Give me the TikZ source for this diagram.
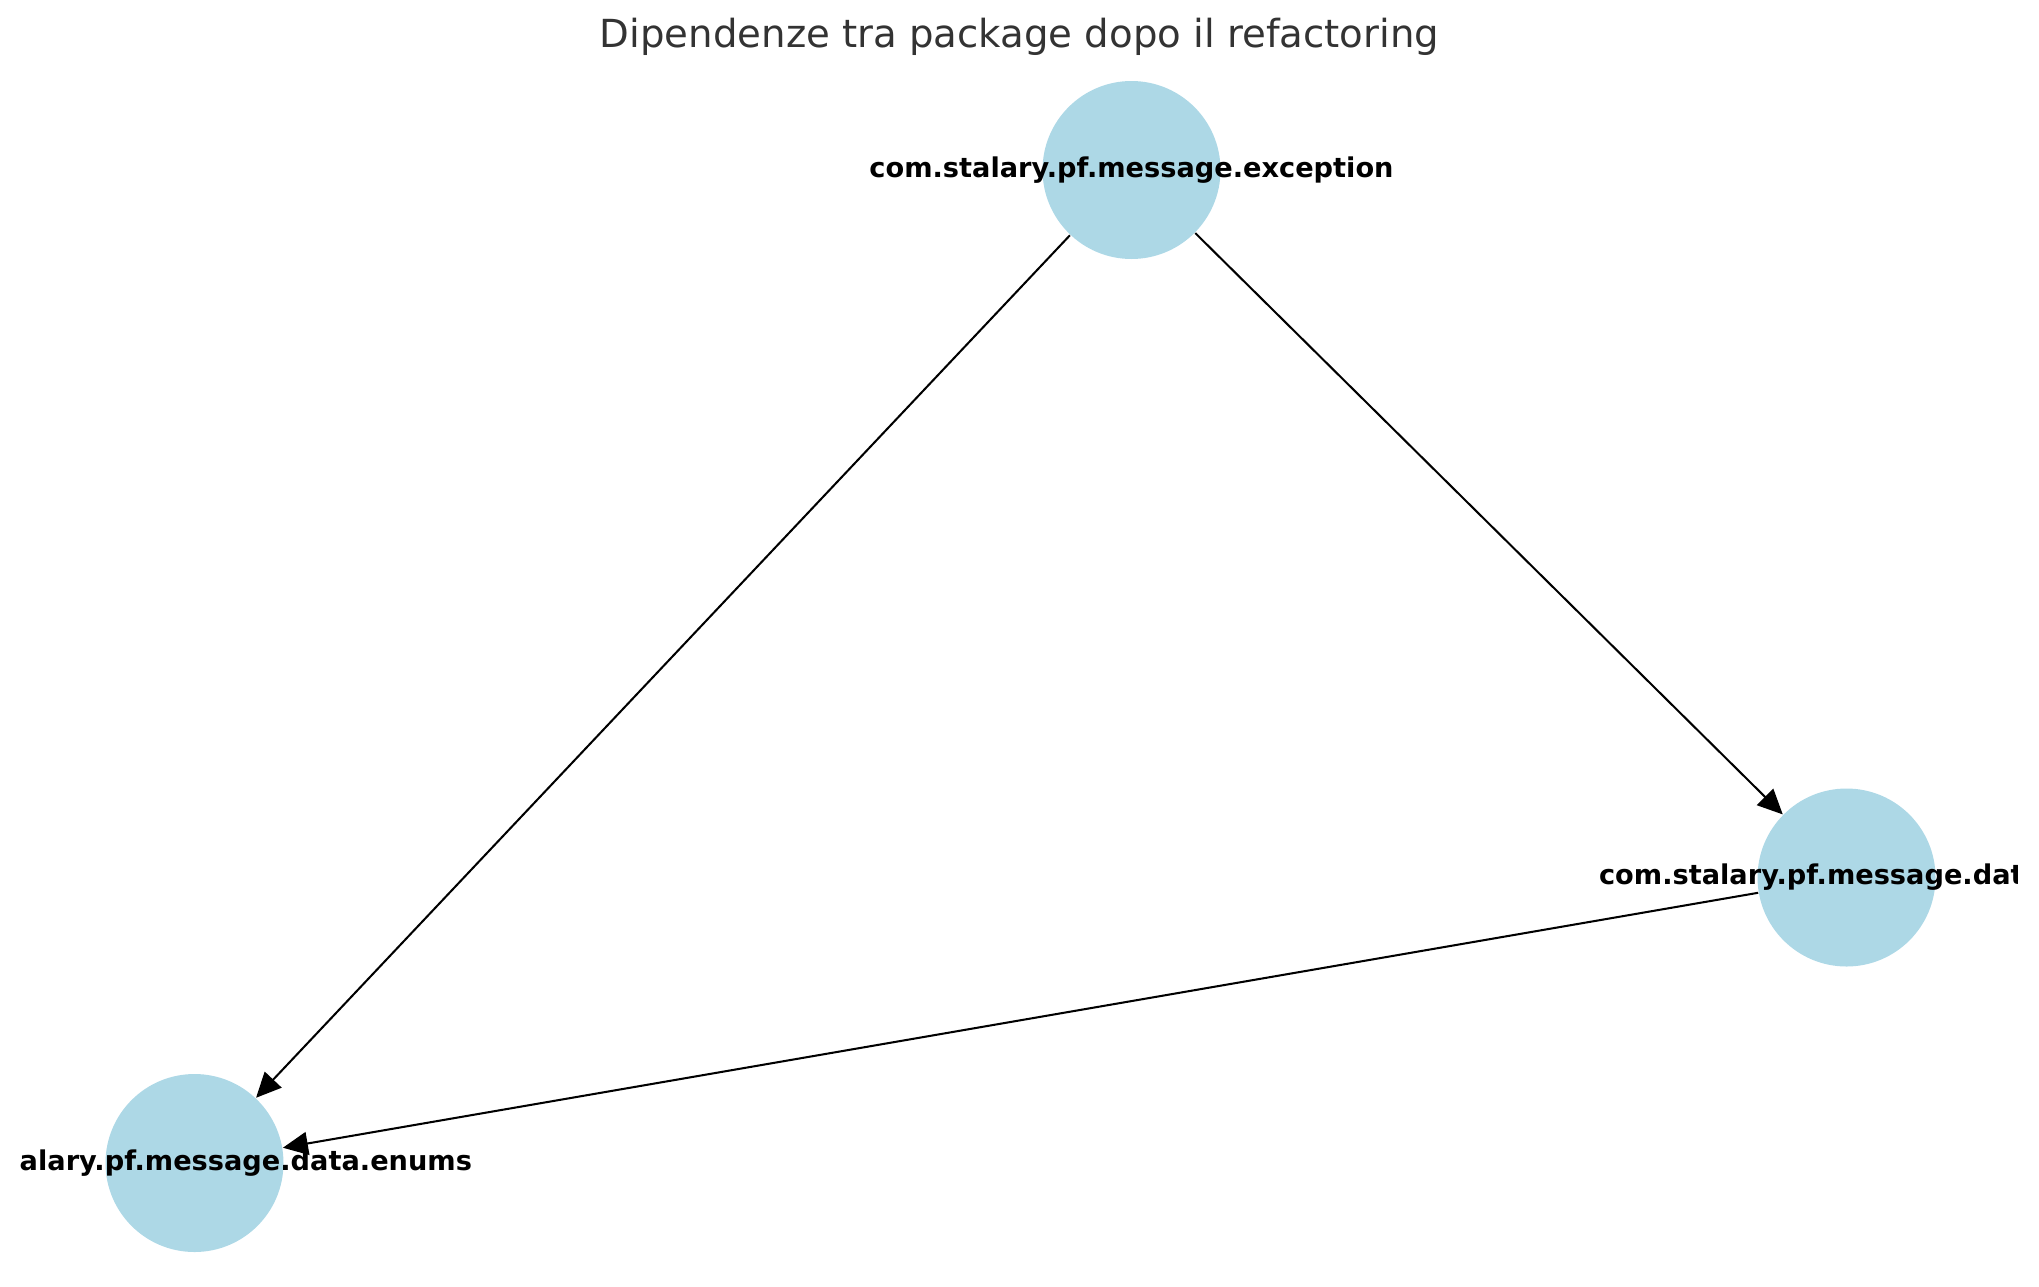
\documentclass[tikz,border=0pt]{standalone}
\usepackage{fontspec}
\setmainfont{DejaVu Sans}
\usetikzlibrary{arrows.meta}
\definecolor{pkgblue}{HTML}{ADD8E6}
\definecolor{titlegray}{HTML}{333333}
\begin{document}
\begin{tikzpicture}[
  pkg/.style={circle,fill=pkgblue,minimum size=1.78cm,inner sep=0pt},
  pkglabel/.style={font=\fontsize{7.74}{9.3}\selectfont\bfseries,inner sep=0pt},
  dep/.style={-{Triangle[length=0.25cm,width=0.23cm]},line width=0.58pt,black}]
  \useasboundingbox (0,0) rectangle (20.39,12.86);
  \node[font=\fontsize{11}{13}\selectfont,text=titlegray,inner sep=0pt] (title) at (10.195,12.49) {Dipendenze tra package dopo il refactoring};
  \clip (0.2,0) rectangle (20.17,12.3);
  % packages
  \node[pkg,label={[pkglabel]center:com.stalary.pf.message.exception}] (exc) at (11.315,11.16) {};
  \node[pkg,label={[pkglabel,xshift=-0.26cm]center:com.stalary.pf.message.data}] (data) at (18.465,4.085) {};
  \node[pkg,label={[pkglabel]center:com.stalary.pf.message.data.enums}] (enums) at (1.945,1.23) {};
  % dependencies
  \draw[dep] (exc) -- (enums);
  \draw[dep] (exc) -- (data);
  \draw[dep] (data) -- (enums);
\end{tikzpicture}
\end{document}
